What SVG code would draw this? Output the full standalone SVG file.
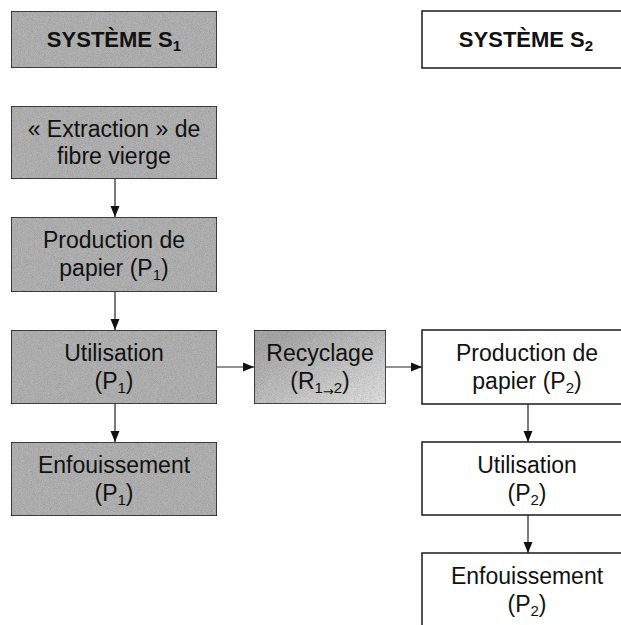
<svg xmlns="http://www.w3.org/2000/svg" width="621" height="625" viewBox="0 0 621 625">
  <defs>
    <style>
      .box { stroke: #1a1a1a; stroke-width: 1.5; }
      .s1 { fill: #b4b4b4; }
      .s2 { fill: #ffffff; }
      .lbl { font-family: "Liberation Sans", Arial, sans-serif; font-size: 23px; fill: #111; text-anchor: middle; }
      .hdr { font-family: "Liberation Sans", Arial, sans-serif; font-size: 22px; font-weight: bold; fill: #111; text-anchor: middle; }
      .sub { font-size: 15px; }
      .arw { font-family: "DejaVu Sans", sans-serif; font-size: 13px; }
      .edge { stroke: #222; stroke-width: 1.2; fill: none; }
    </style>
    <!-- halftone-like grain for the shaded boxes -->
    <filter id="grain" x="0" y="0" width="100%" height="100%">
      <feTurbulence type="fractalNoise" baseFrequency="1.3" numOctaves="2" seed="7" result="noise"/>
      <feColorMatrix in="noise" type="matrix"
        values="0.3 0.3 0.3 0 0.45  0.3 0.3 0.3 0 0.45  0.3 0.3 0.3 0 0.45  0 0 0 0 1" result="gray"/>
      <feComposite in="gray" in2="SourceGraphic" operator="in" result="g"/>
      <feBlend in="SourceGraphic" in2="g" mode="multiply"/>
    </filter>
    <linearGradient id="recFill" x1="0" y1="0" x2="1" y2="1">
      <stop offset="0.15" stop-color="#aaaaaa"/>
      <stop offset="1" stop-color="#e4e4e4"/>
    </linearGradient>
    <marker id="arrow" viewBox="0 0 11 10" refX="11" refY="5" markerWidth="11" markerHeight="10"
            markerUnits="userSpaceOnUse" orient="auto">
      <path d="M0,0.5 L11,5 L0,9.5 z" fill="#111"/>
    </marker>
  </defs>

  <rect width="621" height="625" fill="#ffffff"/>

  <!-- connectors -->
  <g id="connectors">
    <line class="edge" x1="115" y1="179" x2="115" y2="217" marker-end="url(#arrow)"/>
    <line class="edge" x1="115" y1="292" x2="115" y2="330" marker-end="url(#arrow)"/>
    <line class="edge" x1="115" y1="404" x2="115" y2="442" marker-end="url(#arrow)"/>
    <line class="edge" x1="217" y1="367" x2="254" y2="367" marker-end="url(#arrow)"/>
    <line class="edge" x1="386" y1="367" x2="422" y2="367" marker-end="url(#arrow)"/>
    <line class="edge" x1="528" y1="404" x2="528" y2="442" marker-end="url(#arrow)"/>
    <line class="edge" x1="528" y1="515" x2="528" y2="553" marker-end="url(#arrow)"/>
  </g>

  <!-- system 1 -->
  <g id="header-s1">
    <rect class="box s1" x="11" y="11" width="206" height="57" filter="url(#grain)"/>
    <text class="hdr" x="114" y="47">SYSTÈME S<tspan class="sub" dy="4">1</tspan></text>
  </g>
  <g id="extraction">
    <rect class="box s1" x="11" y="106" width="206" height="73" filter="url(#grain)"/>
    <text class="lbl" x="114" y="137">« Extraction » de</text>
    <text class="lbl" x="114" y="164">fibre vierge</text>
  </g>
  <g id="production-p1">
    <rect class="box s1" x="11" y="217" width="206" height="75" filter="url(#grain)"/>
    <text class="lbl" x="114" y="248">Production de</text>
    <text class="lbl" x="114" y="276">papier (P<tspan class="sub" dy="4">1</tspan><tspan dy="-4">)</tspan></text>
  </g>
  <g id="utilisation-p1">
    <rect class="box s1" x="11" y="330" width="206" height="74" filter="url(#grain)"/>
    <text class="lbl" x="114" y="361">Utilisation</text>
    <text class="lbl" x="114" y="389">(P<tspan class="sub" dy="4">1</tspan><tspan dy="-4">)</tspan></text>
  </g>
  <g id="enfouissement-p1">
    <rect class="box s1" x="11" y="442" width="206" height="74" filter="url(#grain)"/>
    <text class="lbl" x="114" y="473">Enfouissement</text>
    <text class="lbl" x="114" y="501">(P<tspan class="sub" dy="4">1</tspan><tspan dy="-4">)</tspan></text>
  </g>

  <!-- recycling step between the systems -->
  <g id="recyclage">
    <rect class="box" x="254" y="330" width="132" height="74" fill="url(#recFill)" filter="url(#grain)"/>
    <text class="lbl" x="320" y="361">Recyclage</text>
    <text class="lbl" x="320" y="389">(R<tspan class="sub" dy="4">1</tspan><tspan class="arw" dy="3">→</tspan><tspan class="sub" dy="-3">2</tspan><tspan dy="-4">)</tspan></text>
  </g>

  <!-- system 2 -->
  <g id="header-s2">
    <rect class="box s2" x="422" y="11" width="214" height="57"/>
    <text class="hdr" x="526" y="47">SYSTÈME S<tspan class="sub" dy="4">2</tspan></text>
  </g>
  <g id="production-p2">
    <rect class="box s2" x="422" y="330" width="214" height="74"/>
    <text class="lbl" x="527" y="361">Production de</text>
    <text class="lbl" x="527" y="389">papier (P<tspan class="sub" dy="4">2</tspan><tspan dy="-4">)</tspan></text>
  </g>
  <g id="utilisation-p2">
    <rect class="box s2" x="422" y="442" width="214" height="73"/>
    <text class="lbl" x="527" y="473">Utilisation</text>
    <text class="lbl" x="527" y="501">(P<tspan class="sub" dy="4">2</tspan><tspan dy="-4">)</tspan></text>
  </g>
  <g id="enfouissement-p2">
    <rect class="box s2" x="422" y="553" width="214" height="80"/>
    <text class="lbl" x="527" y="584">Enfouissement</text>
    <text class="lbl" x="527" y="612">(P<tspan class="sub" dy="4">2</tspan><tspan dy="-4">)</tspan></text>
  </g>
</svg>
